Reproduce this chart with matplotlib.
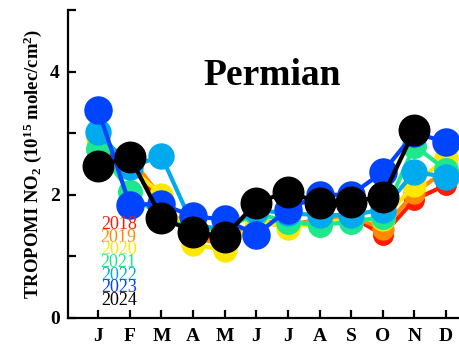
import numpy as np
import matplotlib.pyplot as plt
from matplotlib.ticker import MultipleLocator, FuncFormatter

months = ['J', 'F', 'M', 'A', 'M', 'J', 'J', 'A', 'S', 'O', 'N', 'D']
years = ['2018', '2019', '2020', '2021', '2022', '2023', '2024']

no2_2018 = [2.75, 2.50, 1.85, 1.35, 1.25, 1.55, 1.50, 1.60, 1.65, 1.35, 1.92, 2.16]
no2_2019 = [2.85, 2.62, 1.95, 1.30, 1.20, 1.60, 1.50, 1.60, 1.65, 1.45, 2.03, 2.40]
no2_2020 = [2.90, 2.45, 2.00, 1.20, 1.10, 1.60, 1.46, 1.55, 1.60, 1.60, 2.16, 2.60]
no2_2021 = [2.75, 2.05, 1.62, 1.45, 1.45, 1.70, 1.56, 1.51, 1.56, 1.64, 2.80, 2.40]
no2_2022 = [3.02, 2.45, 2.63, 1.50, 1.45, 1.75, 1.70, 1.67, 1.67, 1.76, 2.37, 2.29]
no2_2023 = [3.38, 1.84, 1.85, 1.65, 1.60, 1.35, 1.76, 2.00, 2.00, 2.37, 3.00, 2.86]
no2_2024 = [2.46, 2.62, 1.63, 1.40, 1.32, 1.87, 2.05, 1.87, 1.89, 1.97, 3.05, np.nan]

series = [no2_2018, no2_2019, no2_2020, no2_2021, no2_2022, no2_2023, no2_2024]
colors = ['#ff1a00', '#ff8a00', '#ffe800', '#1ee88c', '#00aaee', '#0044ff', '#000000']
msizes = [14, 15, 16.5, 17, 18, 19.5, 22]

plt.rcParams['font.family'] = ['Liberation Serif', 'DejaVu Serif']
plt.rcParams['mathtext.fontset'] = 'custom'
plt.rcParams['mathtext.rm'] = 'Liberation Serif:bold'
plt.rcParams['mathtext.it'] = 'Liberation Serif:bold'
plt.rcParams['mathtext.bf'] = 'Liberation Serif:bold'

fig = plt.figure(figsize=(4.6, 3.52), dpi=100)
ax = fig.add_axes([0.148, 0.0966, 0.852, 0.875])

x = np.arange(1, 13)
for vals, c, ms in zip(series, colors, msizes):
    ax.plot(x, vals, '-o', color=c, lw=3, ms=ms, mec=c, zorder=2)

ax.set_xlim(0.05, 12.44)
ax.set_ylim(0, 5)

ax.spines['top'].set_visible(False)
ax.spines['right'].set_visible(False)
ax.spines['left'].set_linewidth(1.6)
ax.spines['bottom'].set_linewidth(1.6)

ax.set_xticks(x)
ax.set_xticklabels(months, fontsize=14, fontweight='bold')
ax.yaxis.set_major_locator(MultipleLocator(1))
ax.yaxis.set_major_formatter(FuncFormatter(lambda v, p: '%d' % v if v % 2 == 0 else ''))
ax.tick_params(direction='in', length=6, width=1.6)
ax.tick_params(axis='x', pad=7)
ax.tick_params(axis='y', pad=6, labelsize=14)
for lab in ax.get_yticklabels():
    lab.set_fontweight('bold')

ax.set_ylabel('TROPOMI NO$_2$ (10$^{15}$ molec/cm$^2$)', fontsize=13.5,
              fontweight='bold', labelpad=4)

ax.text(6.5, 3.93, 'Permian', fontsize=27, fontweight='bold', ha='center', va='center')

# stacked year key in the lower-left corner
for i, (yr, c) in enumerate(zip(years, colors)):
    ax.text(1.65, 1.51 - i * 0.203, yr, color=c, fontsize=13,
            ha='center', va='center', zorder=3)

fig.savefig('out.png', dpi=100)
